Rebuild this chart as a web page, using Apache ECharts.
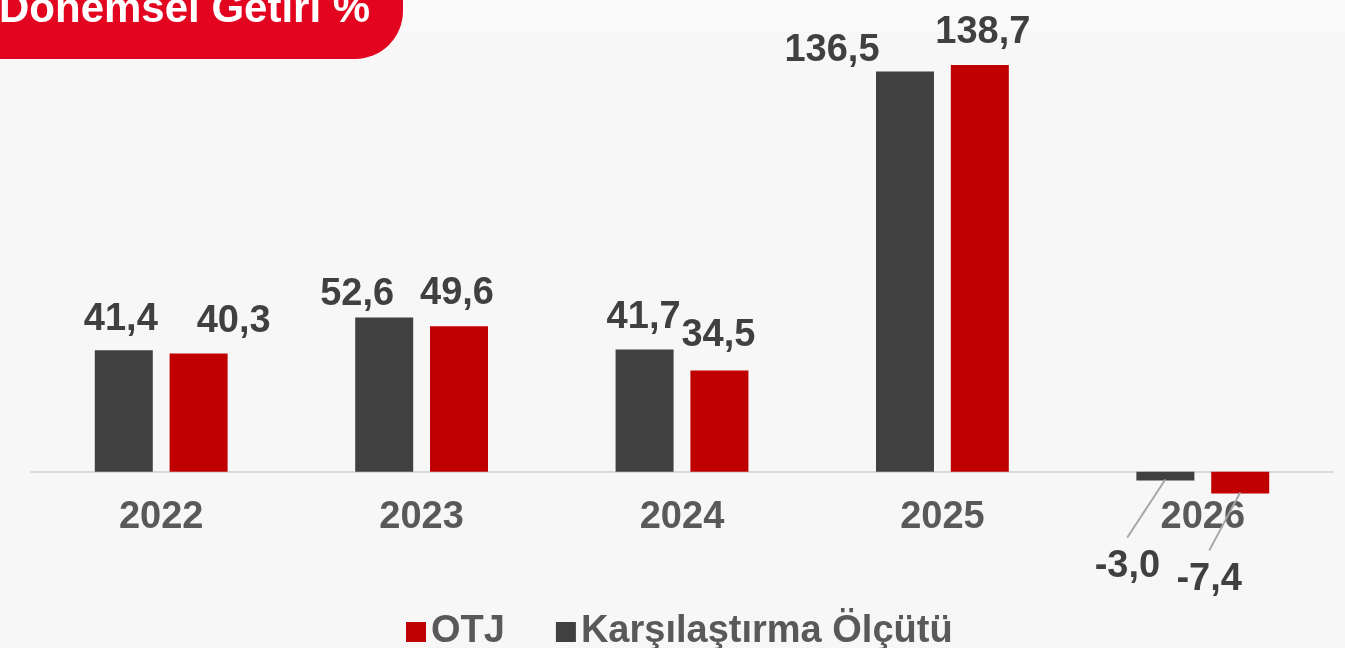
<!DOCTYPE html>
<html>
<head>
<meta charset="utf-8">
<script src="https://cdn.jsdelivr.net/npm/echarts@6/dist/echarts.min.js"></script>
<style>
	html, body {margin:0; padding:0; background:#f7f7f7;}
	#chart {width:1345px; height:648px;}
</style>
</head>
<body>
<div id="chart"></div>
<script>
var years = ['2022', '2023', '2024', '2025', '2026'];
var benchmark = [41.4, 52.6, 41.7, 136.5, -3.0];   // Karşılaştırma Ölçütü
var otj = [40.3, 49.6, 34.5, 138.7, -7.4];
var legendNames = ['OTJ', 'Karşılaştırma Ölçütü'];

// label nudges so they sit as in the slide
var darkShift = [[-3, 2], [-27, 10], [-1, 1], [-73, 12], [-38, 53]];
var redShift = [[35, 1], [-2, 0], [-1, -2], [3, 0], [-31, 53]];

var font = '"Liberation Sans", Arial, sans-serif';
var barW = 58, barGapPx = 17;

function fmt(p) {
	return p.value.toFixed(1).replace('.', ',');
}

function buildData(values) {
	var out = [];
	for (var i in values) {
		var item = {value: values[i]};
		if (values[i] < 0) {
			item.label = {position: 'bottom'};
		}
		out.push(item);
	}
	return out;
}

function moveLabel(shift) {
	return function(params) {
		var s = shift[params.dataIndex];
		return {dx: s[0], dy: s[1]};
	};
}

// leader lines for the negative values: [category index, value, series side]
var leaderData = [];
for (var i in years) {
	if (benchmark[i] < 0) leaderData.push([+i, benchmark[i], 0]);
	if (otj[i] < 0) leaderData.push([+i, otj[i], 1]);
}

function renderLeader(params, api) {
	var idx = api.value(0);
	var side = api.value(2);
	var p = api.coord([idx, api.value(1)]);
	var off = (barW + barGapPx) / 2;
	var x0 = p[0] + (side == 0 ? -off : off);
	var s = side == 0 ? darkShift[idx] : redShift[idx];
	return {
		type: 'line',
		shape: {x1: x0, y1: p[1] - 1, x2: x0 + s[0], y2: p[1] + 57},
		style: {stroke: '#a6a6a6', lineWidth: 2},
		z2: 100
	};
}

var myChart = echarts.init(document.getElementById('chart'));
var option = {
	backgroundColor: '#f7f7f7',
	animation: false,
	graphic: [{
		type: 'rect',
		shape: {x: 0, y: 0, width: 1345, height: 32},
		style: {fill: '#fafafa'},
		silent: true
	}, {
		type: 'rect',
		shape: {x: -60, y: -60, width: 463, height: 119, r: [0, 0, 48, 0]},
		style: {fill: '#e30520'},
		silent: true
	}, {
		type: 'text',
		left: -1,
		top: -11,
		style: {
			text: 'Dönemsel Getiri %',
			fill: '#ffffff',
			font: 'bold 42px ' + font
		},
		silent: true
	}],
	legend: {
		data: legendNames,
		left: 406,
		top: 613,
		icon: 'rect',
		itemWidth: 20,
		itemHeight: 20,
		itemGap: 51,
		padding: 0,
		textStyle: {
			fontFamily: font,
			fontWeight: 'bold',
			fontSize: 38,
			color: '#595959'
		}
	},
	grid: {
		left: 31,
		right: 12,
		top: 32,
		bottom: 147
	},
	xAxis: {
		type: 'category',
		data: years,
		axisTick: {show: false},
		axisLine: {lineStyle: {color: '#d9d9d9', width: 2}},
		axisLabel: {
			margin: -2,
			fontFamily: font,
			fontWeight: 'bold',
			fontSize: 38,
			color: '#595959'
		}
	},
	yAxis: {
		type: 'value',
		min: -10,
		max: 150,
		show: false,
		splitLine: {show: false}
	},
	series: [{
		name: 'Karşılaştırma Ölçütü',
		type: 'bar',
		barWidth: barW,
		barGap: '29%',
		color: '#404040',
		data: buildData(benchmark),
		label: {
			show: true,
			position: 'top',
			distance: 14,
			formatter: fmt,
			fontFamily: font,
			fontWeight: 'bold',
			fontSize: 38,
			color: '#404040'
		},
		labelLayout: moveLabel(darkShift)
	}, {
		name: 'OTJ',
		type: 'bar',
		barWidth: barW,
		barGap: '29%',
		color: '#c00000',
		data: buildData(otj),
		label: {
			show: true,
			position: 'top',
			distance: 14,
			formatter: fmt,
			fontFamily: font,
			fontWeight: 'bold',
			fontSize: 38,
			color: '#404040'
		},
		labelLayout: moveLabel(redShift)
	}, {
		name: 'leader',
		type: 'custom',
		data: leaderData,
		renderItem: renderLeader,
		silent: true,
		z: 10
	}]
};
myChart.setOption(option);
</script>
</body>
</html>
